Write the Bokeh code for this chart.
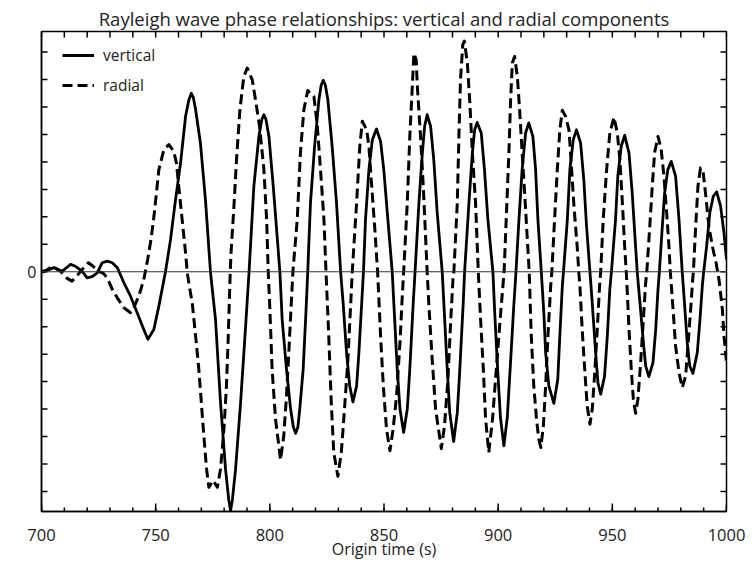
from bokeh.plotting import figure
from bokeh.models import (Range1d, LinearAxis, FixedTicker, Span, Legend, LegendItem,
                          ColumnDataSource)
from bokeh.embed import file_html
from bokeh.resources import INLINE

# ---- data (time s, amplitude in tick units) ----
vertical = [
    (700.0, 0.0), (701.0, 0.0), (705.4, 0.15), (709.1, 0.02), (712.7, 0.27), (714.9, 0.2),
    (717.8, 0.02), (720.0, -0.22), (722.2, -0.18), (724.4, -0.04), (726.6, 0.33), (728.8, 0.39),
    (731.0, 0.33), (733.2, 0.15), (736.1, -0.4), (739.0, -0.89), (741.9, -1.49), (744.8, -2.1),
    (746.6, -2.46), (749.2, -2.1), (751.4, -1.25), (754.3, 0.0), (756.5, 1.17), (758.5, 2.5),
    (760.9, 3.96), (763.1, 5.66), (764.5, 6.25), (765.6, 6.5), (766.5, 6.35), (767.5, 5.9),
    (769.6, 4.69), (771.8, 2.63), (774.0, 0.0), (776.2, -1.73), (778.4, -4.76), (780.6, -7.19),
    (782.0, -8.3), (782.8, -8.7), (783.6, -8.3), (785.0, -7.19), (787.2, -4.76), (789.4, -1.98),
    (790.9, 0.0), (793.0, 3.11), (795.2, 4.93), (796.5, 5.55), (797.4, 5.72), (798.3, 5.55),
    (799.6, 4.93), (801.5, 3.11), (804.4, 0.0), (805.4, -1.73), (807.3, -3.55), (809.1, -5.0),
    (810.3, -5.65), (811.3, -5.88), (812.3, -5.65), (813.1, -5.0), (814.6, -3.55), (815.8, -1.5),
    (816.6, 0.0), (817.8, 2.51), (819.6, 4.57), (821.5, 6.27), (822.5, 6.8), (823.4, 6.97),
    (824.3, 6.8), (825.4, 6.27), (827.3, 4.57), (829.2, 2.51), (831.0, 0.0), (832.1, -1.13),
    (833.6, -2.95), (835.0, -4.16), (836.4, -4.74), (838.0, -4.16), (839.0, -2.95), (840.4, -0.9),
    (841.0, 0.0), (841.9, 1.9), (843.4, 3.72), (844.9, 4.81), (846.7, 5.2), (848.5, 4.75),
    (849.9, 3.72), (851.7, 1.9), (853.6, 0.0), (854.3, -1.13), (855.8, -3.55), (857.0, -5.0),
    (858.6, -5.85), (860.2, -5.0), (861.3, -3.55), (862.8, -1.13), (863.6, 0.0), (865.3, 2.51),
    (866.8, 4.33), (867.8, 5.3), (868.9, 5.72), (870.4, 5.3), (871.8, 4.08), (873.3, 2.15),
    (875.5, 0.0), (876.2, -1.13), (877.7, -3.55), (878.8, -5.13), (880.5, -6.18), (882.1, -5.13),
    (883.2, -3.55), (884.7, -1.13), (885.3, 0.0), (887.2, 2.51), (888.7, 4.33), (889.7, 5.17),
    (890.8, 5.44), (892.6, 5.05), (894.0, 3.72), (895.5, 1.9), (897.7, 0.0), (898.5, -1.5),
    (899.8, -3.6), (901.0, -5.3), (902.5, -6.34), (904.0, -5.3), (905.2, -3.6), (906.8, -1.3),
    (907.8, 0.0), (909.1, 1.9), (910.5, 3.72), (912.0, 5.05), (913.4, 5.42), (915.2, 4.93),
    (916.4, 3.72), (917.4, 1.9), (918.9, 0.0), (920.0, -1.5), (920.8, -2.95), (922.2, -4.16),
    (924.4, -4.79), (926.1, -3.92), (927.0, -2.34), (928.1, -0.52), (928.6, 0.0), (930.3, 1.9),
    (931.4, 3.72), (932.9, 4.81), (934.3, 5.17), (936.1, 4.69), (937.5, 3.36), (938.7, 1.66),
    (940.2, 0.0), (941.2, -1.13), (942.7, -2.95), (943.7, -4.04), (944.9, -4.46), (946.6, -3.8),
    (947.8, -2.34), (948.9, -0.64), (949.6, 0.0), (951.4, 1.9), (952.4, 3.48), (953.9, 4.57),
    (955.4, 4.97), (957.3, 4.33), (958.7, 2.87), (959.8, 1.42), (960.9, 0.0), (962.1, -1.13),
    (963.6, -2.58), (964.6, -3.43), (966.0, -3.82), (967.8, -3.31), (969.0, -2.1), (970.0, -0.64),
    (970.6, 0.0), (971.9, 1.66), (972.9, 2.87), (974.3, 3.72), (975.8, 4.02), (977.7, 3.48),
    (979.2, 1.9), (980.6, 0.0), (981.6, -1.13), (982.8, -2.58), (983.9, -3.43), (985.3, -3.7),
    (987.2, -2.95), (988.4, -1.73), (989.4, -0.52), (990.0, 0.0), (991.3, 0.93), (992.7, 2.15),
    (994.2, 2.75), (995.7, 2.91), (997.4, 2.39), (998.9, 1.42), (1000.0, 0.45),
]

radial = [
    (700.0, 0.0), (702.0, 0.05), (704.7, 0.2), (708.3, 0.02), (711.4, -0.25), (713.4, -0.34),
    (716.0, -0.1), (718.5, 0.15), (720.5, 0.33), (722.6, 0.2), (724.8, 0.02), (727.0, -0.05),
    (728.8, -0.22), (731.0, -0.64), (733.2, -0.95), (736.1, -1.31), (739.0, -1.49), (740.4, -1.31),
    (742.6, -0.89), (744.8, -0.28), (746.5, 0.45), (748.0, 1.2), (749.5, 2.2), (751.4, 3.72),
    (753.6, 4.45), (755.8, 4.63), (757.9, 4.39), (759.1, 3.96), (760.1, 3.11), (761.6, 1.9),
    (763.1, 0.69), (763.8, 0.0), (764.5, -0.4), (766.0, -1.13), (767.5, -2.34), (768.9, -3.55),
    (770.0, -4.76), (771.1, -5.98), (772.3, -7.19), (773.3, -7.85), (775.2, -7.6), (777.0, -7.85),
    (778.4, -7.19), (779.9, -5.73), (781.0, -4.16), (781.8, -2.34), (782.5, -0.4), (783.0, 0.69),
    (784.2, 2.27), (785.4, 4.08), (786.9, 5.9), (788.6, 7.11), (790.1, 7.42), (792.3, 6.99),
    (793.7, 6.27), (795.5, 5.3), (797.4, 3.72), (798.6, 1.9), (799.3, 0.0), (799.9, -1.12),
    (801.0, -3.55), (802.5, -5.37), (804.7, -6.85), (806.1, -5.98), (807.3, -4.52), (808.3, -2.95),
    (809.4, -1.13), (810.1, 0.0), (812.0, 1.9), (813.4, 4.33), (814.9, 5.9), (816.6, 6.6),
    (817.8, 6.5), (819.3, 6.39), (820.8, 5.3), (822.2, 3.72), (823.7, 1.9), (824.6, 0.0),
    (825.8, -2.34), (826.9, -4.76), (828.0, -6.58), (829.8, -7.45), (831.3, -6.58), (832.7, -5.0),
    (834.2, -3.19), (835.3, -1.37), (836.1, 0.0), (838.0, 2.51), (839.4, 4.57), (840.5, 5.48),
    (842.4, 5.17), (843.4, 4.57), (844.4, 3.36), (845.9, 1.66), (847.2, 0.0), (848.5, -2.34),
    (849.7, -4.16), (851.1, -5.73), (852.6, -6.52), (854.0, -5.73), (855.5, -4.52), (857.0, -2.58),
    (858.0, -0.89), (858.6, 0.0), (860.2, 2.51), (861.3, 4.93), (862.4, 6.75), (863.1, 7.96),
    (864.1, 7.72), (864.6, 6.75), (866.0, 4.93), (867.2, 3.11), (868.2, 1.29), (868.9, 0.0),
    (869.6, -1.13), (871.1, -3.19), (872.6, -5.0), (875.1, -6.44), (876.5, -5.61), (878.0, -3.92),
    (879.1, -1.98), (880.2, -0.28), (880.6, 0.0), (882.1, 2.51), (882.8, 4.93), (883.5, 6.99),
    (884.5, 8.27), (885.2, 8.4), (886.5, 7.6), (887.6, 6.15), (888.7, 4.33), (890.1, 2.51),
    (891.3, 0.0), (892.3, -1.73), (893.5, -3.55), (894.5, -5.37), (895.9, -6.58), (897.6, -5.3),
    (899.3, -3.4), (901.2, -1.4), (902.6, 0.0), (903.7, 2.27), (904.7, 4.33), (905.4, 6.15),
    (906.2, 7.6), (907.2, 7.84), (908.4, 7.11), (909.4, 5.9), (910.5, 4.33), (911.6, 2.87),
    (912.7, 1.29), (913.6, 0.0), (914.5, -2.34), (915.6, -4.16), (916.8, -5.37), (917.8, -6.1),
    (918.7, -6.4), (919.8, -5.61), (920.8, -4.16), (921.8, -2.34), (923.0, -0.52), (923.5, 0.0),
    (924.7, 1.9), (925.9, 3.72), (927.0, 5.17), (928.1, 5.88), (929.5, 5.66), (931.0, 5.17),
    (932.0, 3.96), (933.2, 2.39), (934.6, 0.93), (935.3, 0.0), (935.8, -0.52), (936.8, -2.1),
    (937.9, -3.55), (939.0, -4.89), (940.2, -5.55), (941.2, -5.0), (942.2, -3.8), (943.4, -2.1),
    (944.5, -0.4), (944.9, 0.0), (946.0, 1.9), (947.5, 3.72), (948.9, 5.05), (950.7, 5.63),
    (952.2, 5.05), (953.3, 4.08), (954.4, 2.51), (955.4, 0.93), (956.1, 0.0), (956.5, -0.64),
    (957.3, -2.1), (958.3, -3.55), (959.2, -4.64), (960.2, -5.15), (961.2, -4.64), (962.4, -3.31),
    (963.6, -1.73), (964.6, -0.4), (965.1, 0.0), (966.4, 1.66), (967.5, 3.11), (968.5, 4.33),
    (970.0, 4.93), (971.4, 4.45), (972.6, 3.48), (973.8, 2.15), (974.8, 0.93), (975.4, 0.0),
    (976.7, -1.49), (977.7, -2.7), (979.2, -3.67), (980.6, -4.22), (982.1, -3.8), (983.1, -2.7),
    (984.3, -1.37), (985.2, -0.28), (985.5, 0.0), (986.5, 1.66), (987.5, 3.11), (988.6, 3.78),
    (989.8, 3.6), (990.8, 2.87), (992.3, 1.66), (993.8, 0.93), (995.5, 0.3), (996.7, -0.28),
    (998.2, -1.37), (998.9, -2.34), (1000.0, -3.3),
]

x_min, x_max = 700, 1000
y_min, y_max = -8.73, 8.75
x_major_ticks = [700, 750, 800, 850, 900, 950, 1000]
x_minor_ticks = list(range(700, 1001, 10))
y_label_ticks = [0]
y_ticks = [-8, -7, -6, -5, -4, -3, -2, -1, 0, 1, 2, 3, 4, 5, 6, 7, 8]

title_text = "Rayleigh wave phase relationships: vertical and radial components"
x_label = "Origin time (s)"
series_names = ["vertical", "radial"]

FONT = "Open Sans"
TXT = "#222222"

W, H = 748, 562
B_LEFT, B_RIGHT, B_TOP, B_BOTTOM = 41, 22, 31, 49

p = figure(width=W, height=H, output_backend="svg", toolbar_location=None,
           x_range=Range1d(x_min, x_max), y_range=Range1d(y_min, y_max),
           min_border_left=B_LEFT, min_border_right=B_RIGHT,
           min_border_top=B_TOP, min_border_bottom=B_BOTTOM,
           x_axis_location=None, y_axis_location=None)

p.title.text = title_text
p.title.align = "center"
p.title.vertical_align = "middle"
p.title.text_font = FONT
p.title.text_font_size = "18.5px"
p.title.text_font_style = "normal"
p.title.text_color = TXT
p.title.standoff = 0
p.title.offset = 0

p.xgrid.visible = False
p.ygrid.visible = False
p.outline_line_color = "black"
p.outline_line_width = 1.5
p.background_fill_color = "white"
p.border_fill_color = "white"

frame_w = W - B_LEFT - B_RIGHT
frame_h = H - B_TOP - B_BOTTOM
ux = (x_max - x_min) / frame_w      # data units per pixel, x
uy = (y_max - y_min) / frame_h      # data units per pixel, y


def style_axis(ax):
    ax.axis_line_color = "black"
    ax.axis_line_width = 1.5
    ax.major_tick_in = 0
    ax.major_tick_out = 0
    ax.minor_tick_in = 0
    ax.minor_tick_out = 0


# bottom axis with labels
xb = LinearAxis(ticker=FixedTicker(ticks=x_major_ticks, minor_ticks=[]))
style_axis(xb)
xb.major_label_text_font = FONT
xb.major_label_text_font_size = "16.5px"
xb.major_label_text_color = TXT
xb.major_label_standoff = 17
xb.axis_label = x_label
xb.axis_label_text_font = FONT
xb.axis_label_text_font_size = "16px"
xb.axis_label_text_font_style = "normal"
xb.axis_label_text_color = TXT
xb.axis_label_standoff = -6
p.add_layout(xb, "below")

# left axis: only 0 labelled
yl = LinearAxis(ticker=FixedTicker(ticks=y_label_ticks, minor_ticks=[]))
style_axis(yl)
yl.major_label_text_font = FONT
yl.major_label_text_font_size = "16px"
yl.major_label_text_color = TXT
yl.major_label_standoff = 5
p.add_layout(yl, "left")


# inward tick marks drawn as one broken line (tick lengths in pixels converted to data units)
def tick_path(positions, edge, length, vertical_ticks):
    xs, ys = [], []
    for v in positions:
        if vertical_ticks:
            xs += [v, v, float("nan")]
            ys += [edge, edge + length, float("nan")]
        else:
            xs += [edge, edge + length, float("nan")]
            ys += [v, v, float("nan")]
    return xs, ys


tick_sets = [
    tick_path(x_minor_ticks, y_min, 4 * uy, True),
    tick_path(x_major_ticks, y_min, 8 * uy, True),
    tick_path(x_minor_ticks, y_max, -6 * uy, True),
    tick_path(y_ticks, x_min, 6 * ux, False),
    tick_path(y_ticks, x_max, -6 * ux, False),
]
for xs, ys in tick_sets:
    p.line(xs, ys, line_color="black", line_width=1.5)

p.add_layout(Span(location=0, dimension="width", line_color="#333333", line_width=1.2))

vsrc = ColumnDataSource(dict(t=[d[0] for d in vertical], a=[d[1] for d in vertical]))
rsrc = ColumnDataSource(dict(t=[d[0] for d in radial], a=[d[1] for d in radial]))

r_rad = p.line("t", "a", source=rsrc, line_color="black", line_width=3.0,
               line_dash="10 5", line_join="round")
r_ver = p.line("t", "a", source=vsrc, line_color="black", line_width=2.8,
               line_join="round")

legend = Legend(items=[LegendItem(label=series_names[0], renderers=[r_ver]),
                       LegendItem(label=series_names[1], renderers=[r_rad])],
                location=(21, 415))
legend.border_line_color = None
legend.background_fill_alpha = 0
legend.margin = 0
legend.padding = 0
legend.spacing = 8
legend.glyph_width = 32
legend.glyph_height = 20
legend.label_height = 20
legend.label_standoff = 9
legend.label_text_font = FONT
legend.label_text_font_size = "15.5px"
legend.label_text_color = TXT
p.add_layout(legend)

open("out.html", "w").write(file_html(p, INLINE))
